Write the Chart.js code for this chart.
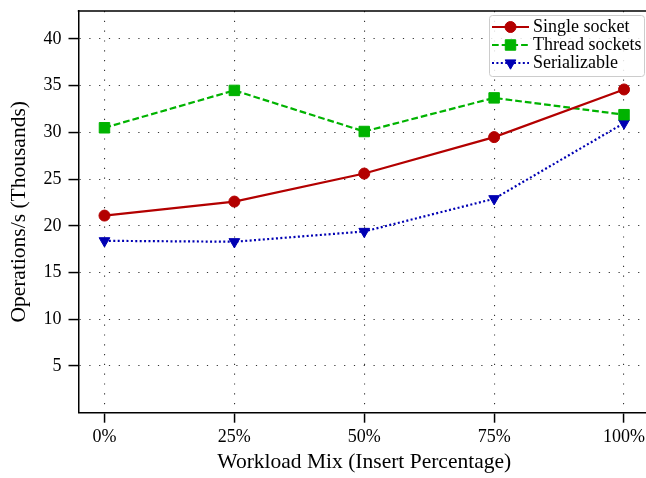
<!DOCTYPE html>
<html>
<head>
<meta charset="utf-8">
<script src="https://cdn.jsdelivr.net/npm/chart.js@4/dist/chart.umd.min.js"></script>
<style>
  html, body { margin: 0; padding: 0; background: #fff; overflow: hidden; }
  #wrap { width: 646px; height: 478px; }
  canvas { display: block; }
</style>
</head>
<body>
<div id="wrap"><canvas id="c" width="646" height="478"></canvas></div>
<script>
// Workload mix categories (insert percentage)
const categories = ['0%', '25%', '50%', '75%', '100%'];

// Throughput in thousands of operations per second
const singleSocket = [21.1, 22.6, 25.6, 29.5, 34.6];
const threadSockets = [30.5, 34.5, 30.1, 33.7, 31.9];
const serializable = [18.4, 18.3, 19.4, 22.9, 31.0];

// Y axis tick values
const yTicks = [5, 10, 15, 20, 25, 30, 35, 40];

const SERIF = "'Liberation Serif', 'DejaVu Serif', serif";

const toPoints = arr => arr.map((v, i) => ({ x: i, y: v }));

// Fixed scale sizes; no extra room for half tick labels
const fixSize = (prop, size) => s => {
  s[prop] = size;
  s.paddingTop = s.paddingBottom = s.paddingLeft = s.paddingRight = 0;
};

// The plot frame runs a few pixels past the right edge of the canvas
const PLOT_RIGHT = 650;
const stretchPlugin = {
  id: 'stretchRight',
  afterLayout(chart) {
    const area = chart.chartArea;
    area.right = PLOT_RIGHT;
    area.width = PLOT_RIGHT - area.left;
    const x = chart.scales.x;
    x.right = PLOT_RIGHT;
    x.width = PLOT_RIGHT - x.left;
    x.configure();
  }
};

// Top frame line (the library only draws the axis borders)
const framePlugin = {
  id: 'frame',
  afterDatasetsDraw(chart) {
    const { ctx, chartArea: a } = chart;
    ctx.save();
    ctx.strokeStyle = '#000';
    ctx.lineWidth = 1.5;
    ctx.beginPath();
    ctx.moveTo(a.left - 0.75, a.top);
    ctx.lineTo(a.right, a.top);
    ctx.lineTo(a.right, a.bottom);
    ctx.stroke();
    ctx.restore();
  }
};

// Legend with line + marker handles
const legendPlugin = {
  id: 'lineLegend',
  afterDraw(chart) {
    const { ctx } = chart;
    const box = { x: 489.5, y: 15.5, w: 155, h: 61, r: 3 };
    ctx.save();
    ctx.beginPath();
    ctx.roundRect(box.x, box.y, box.w, box.h, box.r);
    ctx.fillStyle = 'rgba(255,255,255,0.85)';
    ctx.fill();
    ctx.strokeStyle = '#cccccc';
    ctx.lineWidth = 1;
    ctx.stroke();

    const rowY0 = 27, rowGap = 18;
    const x0 = 492, x1 = 529, xm = 510.5, xt = 533;
    chart.data.datasets.forEach((ds, i) => {
      const y = rowY0 + i * rowGap;
      ctx.save();
      ctx.strokeStyle = ds.borderColor;
      ctx.lineWidth = ds.borderWidth;
      ctx.setLineDash(ds.borderDash || []);
      ctx.lineCap = 'butt';
      ctx.beginPath();
      ctx.moveTo(x0, y);
      ctx.lineTo(x1, y);
      ctx.stroke();
      ctx.restore();

      ctx.save();
      ctx.fillStyle = ds.pointBackgroundColor;
      ctx.strokeStyle = ds.pointBorderColor;
      ctx.lineWidth = ds.pointBorderWidth;
      Chart.helpers.drawPoint(ctx, {
        pointStyle: ds.pointStyle,
        radius: ds.pointRadius,
        rotation: ds.pointRotation || 0,
        borderWidth: ds.pointBorderWidth
      }, xm, y);
      ctx.restore();

      ctx.fillStyle = '#000';
      ctx.font = '18px ' + SERIF;
      ctx.textBaseline = 'middle';
      ctx.textAlign = 'left';
      ctx.fillText(ds.label, xt, y);
    });
    ctx.restore();
  }
};

const red = '#b30000', green = '#00b300', blue = '#0000b3';

const gridOpts = {
  color: 'rgba(0,0,0,0.8)',
  lineWidth: 1.1,
  tickLength: 10,
  tickColor: '#000',
  tickWidth: 1.5,
  tickBorderDash: []
};

new Chart(document.getElementById('c'), {
  type: 'line',
  data: {
    datasets: [
      {
        label: 'Single socket',
        data: toPoints(singleSocket),
        borderColor: red, backgroundColor: red,
        borderWidth: 2.2,
        pointStyle: 'circle', pointRadius: 5.5,
        pointBackgroundColor: red, pointBorderColor: red, pointBorderWidth: 1
      },
      {
        label: 'Thread sockets',
        data: toPoints(threadSockets),
        borderColor: green, backgroundColor: green,
        borderWidth: 2.2, borderDash: [6.7, 3],
        pointStyle: 'rect', pointRadius: 7.4,
        pointBackgroundColor: green, pointBorderColor: green, pointBorderWidth: 1
      },
      {
        label: 'Serializable',
        data: toPoints(serializable),
        borderColor: blue, backgroundColor: blue,
        borderWidth: 2.2, borderDash: [2, 2.4],
        pointStyle: 'triangle', pointRadius: 6.2, pointRotation: 180,
        pointBackgroundColor: blue, pointBorderColor: blue, pointBorderWidth: 1
      }
    ]
  },
  options: {
    responsive: false,
    animation: false,
    devicePixelRatio: 1,
    layout: { padding: { left: 0, right: 0, top: 11, bottom: 0 } },
    plugins: {
      legend: { display: false },
      tooltip: { enabled: false }
    },
    elements: { line: { tension: 0 } },
    scales: {
      x: {
        type: 'linear',
        min: -0.2, max: 4.2,
        afterBuildTicks: s => { s.ticks = categories.map((_, i) => ({ value: i })); },
        afterFit: fixSize('height', 65.3),
        ticks: {
          callback: v => categories[v],
          font: { family: SERIF, size: 18 },
          color: '#000',
          padding: 4,
          maxRotation: 0,
          autoSkip: false
        },
        grid: gridOpts,
        border: { display: true, color: '#000', width: 1.5, dash: [1.2, 8.6] },
        title: {
          display: true,
          text: 'Workload Mix (Insert Percentage)',
          font: { family: SERIF, size: 21.5 },
          color: '#000',
          padding: { top: 0, bottom: 2.5 }
        }
      },
      y: {
        type: 'linear',
        min: 0, max: 43,
        afterBuildTicks: s => { s.ticks = yTicks.map(v => ({ value: v })); },
        afterFit: fixSize('width', 78.5),
        ticks: {
          font: { family: SERIF, size: 18 },
          color: '#000',
          padding: 7
        },
        grid: gridOpts,
        border: { display: true, color: '#000', width: 1.5, dash: [1.2, 8.6] },
        title: {
          display: true,
          text: 'Operations/s (Thousands)',
          font: { family: SERIF, size: 21.5 },
          color: '#000',
          padding: { top: 6, bottom: 0 }
        }
      }
    }
  },
  plugins: [stretchPlugin, framePlugin, legendPlugin]
});
</script>
</body>
</html>
